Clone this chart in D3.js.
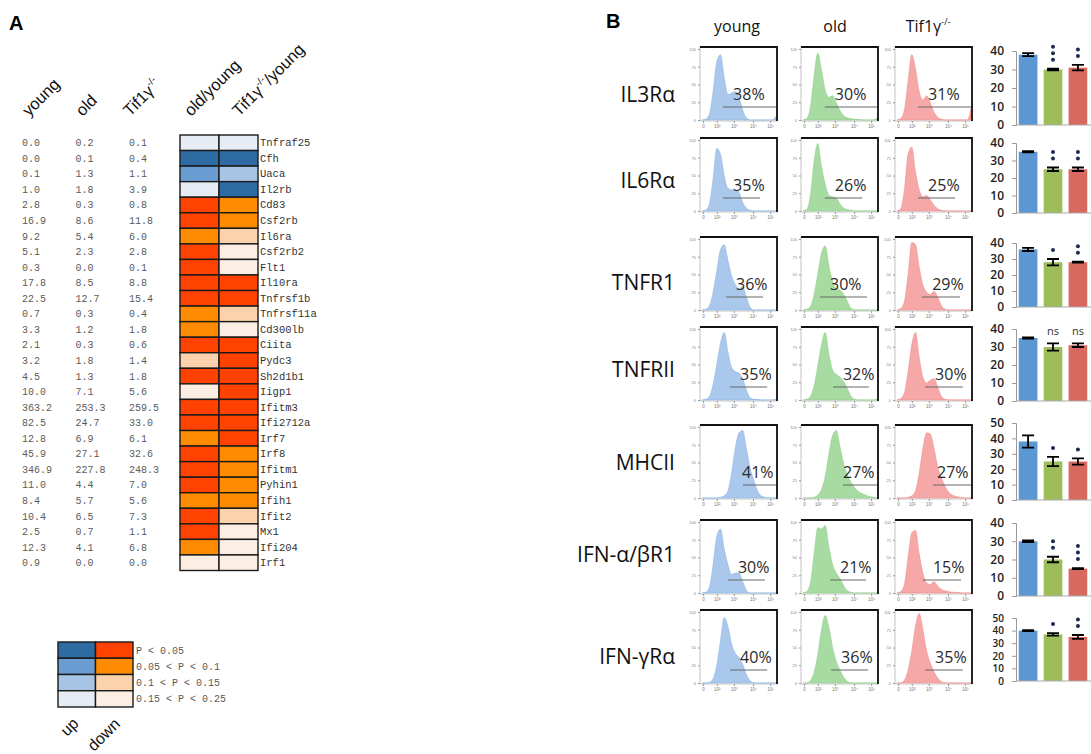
<!DOCTYPE html>
<html><head><meta charset="utf-8">
<script src="https://cdn.jsdelivr.net/npm/d3@7"></script>
<style>body{margin:0;background:#fff}svg{display:block}</style>
</head><body>
<svg id="c" width="1091" height="754"></svg>
<script>
// ---------------- Panel A data ----------------
const genes = ["Tnfraf25","Cfh","Uaca","Il2rb","Cd83","Csf2rb","Il6ra","Csf2rb2","Flt1","Il10ra","Tnfrsf1b","Tnfrsf11a","Cd300lb","Ciita","Pydc3","Sh2d1b1","Iigp1","Ifitm3","Ifi2712a","Irf7","Irf8","Ifitm1","Pyhin1","Ifih1","Ifit2","Mx1","Ifi204","Irf1"];
const youngVals = ["0.0","0.0","0.1","1.0","2.8","16.9","9.2","5.1","0.3","17.8","22.5","0.7","3.3","2.1","3.2","4.5","10.0","363.2","82.5","12.8","45.9","346.9","11.0","8.4","10.4","2.5","12.3","0.9"];
const oldVals = ["0.2","0.1","1.3","1.8","0.3","8.6","5.4","2.3","0.0","8.5","12.7","0.3","1.2","0.3","1.8","1.3","7.1","253.3","24.7","6.9","27.1","227.8","4.4","5.7","6.5","0.7","4.1","0.0"];
const tifVals = ["0.1","0.4","1.1","3.9","0.8","11.8","6.0","2.8","0.1","8.8","15.4","0.4","1.8","0.6","1.4","1.8","5.6","259.5","33.0","6.1","32.6","248.3","7.0","5.6","7.3","1.1","6.8","0.0"];
// u1..u4 = up (P<0.05 .. 0.15<P<0.25), d1..d4 = down
const oldYoungLevel = ["u4","u1","u2","u4","d1","d1","d2","d1","d1","d1","d1","d2","d2","d1","d3","d1","d4","d1","d1","d2","d1","d1","d1","d2","d1","d1","d2","d4"];
const tifYoungLevel = ["u4","u1","u3","u1","d2","d2","d3","d4","d4","d1","d1","d3","d4","d1","d1","d1","d1","d1","d1","d1","d2","d2","d2","d2","d3","d4","d4","d4"];
const levelCodes = ["u1","u2","u3","u4","d1","d2","d3","d4"];
const levelColors = ["#2e6ba3","#6a9dd2","#a8c4e5","#e5ecf3","#ff4200","#ff8c00","#fcd2ad","#fdeee3"];
const legendLabels = ["P < 0.05","0.05 < P < 0.1","0.1 < P < 0.15","0.15 < P < 0.25"];

// ---------------- Panel B data ----------------
const markers = ["IL3Rα","IL6Rα","TNFR1","TNFRII","MHCII","IFN-α/βR1","IFN-γRα"];
const groups = ["young","old","Tif1γ"];
const pctYoung = [38,35,36,35,41,30,40];
const pctOld = [30,26,30,32,27,21,36];
const pctTif = [31,25,29,30,27,15,35];
// gate (channel bins 0..20)
const gateYoung = [[5.7,20],[5.7,15.7],[6.5,16.5],[7.6,17.6],[11.1,20],[7.0,17],[7.6,17.6]];
const gateOld = [[5.9,20],[5.9,16],[4.6,17.3],[8.1,17.8],[10.8,20],[7.3,17],[7.6,17.6]];
const gateTif = [[5.7,20],[5.7,15.7],[6.8,17],[7.6,17.8],[9.7,20],[7.0,17.3],[7.6,17.8]];
// histogram heights (% of max) at bins 0..20
const histYoung = [
 [0,1,8,40,82,92,60,36,38,40,32,14,3,0,0,0,0,0,0,0,5],
 [0,1,10,45,88,80,50,32,30,30,26,12,4,1,0,0,0,0,0,0,0],
 [0,1,6,25,55,85,92,70,48,36,30,32,18,4,0,0,0,0,0,0,0],
 [0,1,5,22,50,80,95,68,46,40,38,30,14,3,1,1,0,0,0,0,1],
 [0,0,0,0,0,1,3,10,35,70,92,95,70,42,25,10,3,1,0,0,0],
 [0,1,8,40,80,90,62,40,26,28,28,16,4,0,0,0,0,0,0,0,0],
 [0,0,1,6,25,60,92,80,55,42,36,26,12,3,0,0,0,0,0,0,0]];
const histOld = [
 [0,2,18,62,94,70,42,32,34,24,13,6,3,2,1,1,0,0,0,0,3],
 [0,2,22,70,95,62,38,22,20,18,10,4,2,1,0,0,0,0,0,0,0],
 [0,1,5,22,50,80,90,62,40,30,28,22,12,2,0,0,0,0,0,0,0],
 [0,1,5,20,48,78,95,65,42,36,32,26,16,5,1,0,0,0,0,0,1],
 [0,0,0,1,4,12,30,62,88,95,72,48,32,22,14,9,6,4,2,1,0],
 [0,2,14,55,92,90,95,65,40,28,20,10,3,1,0,0,0,0,0,0,0],
 [0,0,3,15,40,75,95,78,50,30,18,8,2,0,0,0,0,0,0,0,0]];
const histTif = [
 [0,2,14,55,92,72,40,28,34,24,11,4,1,0,0,0,0,0,0,0,16],
 [0,3,30,80,90,55,30,20,22,16,8,3,1,0,0,0,0,0,0,0,0],
 [0,2,12,50,95,92,60,35,25,22,26,18,6,1,0,0,0,0,0,0,0],
 [0,2,10,40,78,95,60,32,24,28,30,18,5,1,0,0,0,0,0,0,0],
 [0,0,0,1,3,10,35,70,92,90,70,44,28,16,8,4,2,1,0,0,0],
 [0,2,12,50,85,88,55,28,14,12,16,10,5,3,2,1,1,0,0,0,0],
 [0,0,4,18,45,80,98,75,45,28,16,7,2,0,0,0,0,0,0,0,0]];
const barYoung = [38,35,36,35,38,30,40];
const barOld = [30,25,28,30,25,20,37];
const barTif = [31,25,28,31,25,15,35];
const errYoung = [0.8,0.4,1,0.3,4,0.5,0.3];
const errOld = [0.4,1,2,2,3,1.5,1];
const errTif = [1.5,1,0.3,1,2,0.3,1.5];
const sigOld = ["***","**","*","ns","*","**","*"];
const sigTif = ["**","**","**","ns","*","***","**"];
const barMax = [40,40,40,40,50,40,50];

// ---------------- drawing ----------------
const svg = d3.select("#c");
svg.append("rect").attr("width",1091).attr("height",754).attr("fill","#fff");
const mono = "'Liberation Mono','DejaVu Sans Mono',monospace";
const sans = "'Liberation Sans',Arial,sans-serif";
const calib = "'Open Sans','Noto Sans',sans-serif";

// Panel letters
svg.append("text").attr("x",9).attr("y",30).text("A").attr("font-family",sans).attr("font-weight","bold").attr("font-size",20);
svg.append("text").attr("x",606).attr("y",28).text("B").attr("font-family",sans).attr("font-weight","bold").attr("font-size",20);

// ---- Panel A ----
const A = svg.append("g");
const yRow = d3.scaleBand().domain(genes).range([135,570.5]);
const numCols = ["young","old","tif"];
const xNum = d3.scalePoint().domain(numCols).range([22,129]);
const heatCols = ["oldYoung","tifYoung"];
const xHeat = d3.scaleBand().domain(heatCols).range([180,258]);
const color = d3.scaleOrdinal().domain(levelCodes).range(levelColors);

// headers
function header(x, parts){
  const t = A.append("text").attr("transform",`translate(${x},117) rotate(-45)`)
    .attr("font-family",sans).attr("font-size",16.5).attr("fill","#111");
  parts.forEach(p=>{
    const ts = t.append("tspan").text(p.t);
    if(p.sup){ ts.attr("font-size",10).attr("dy",-7); }
    if(p.down){ ts.attr("dy",7); }
  });
}
header(xNum("young")+7,[{t:"young"}]);
header(xNum("old")+7,[{t:"old"}]);
header(xNum("tif")+1,[{t:"Tif1γ"},{t:"-/-",sup:true}]);
header(191,[{t:"old/young"}]);
header(239,[{t:"Tif1γ"},{t:"-/-",sup:true},{t:"/young",down:true}]);

const valSets = {young:youngVals, old:oldVals, tif:tifVals};
numCols.forEach(c=>{
  A.append("g").selectAll("text").data(genes).join("text")
    .attr("x",xNum(c)).attr("y",(g)=>yRow(g)+yRow.bandwidth()/2+3.5)
    .text((g,i)=>valSets[c][i])
    .attr("font-family",mono).attr("font-size",10).attr("fill","#5a5a5a");
});
const levelSets = {oldYoung:oldYoungLevel, tifYoung:tifYoungLevel};
heatCols.forEach(c=>{
  A.append("g").selectAll("rect").data(genes).join("rect")
    .attr("x",xHeat(c)).attr("y",g=>yRow(g)).attr("width",xHeat.bandwidth()).attr("height",yRow.bandwidth())
    .attr("fill",(g,i)=>color(levelSets[c][i])).attr("stroke","#1a1a1a").attr("stroke-width",1.4);
});
A.append("g").selectAll("text").data(genes).join("text")
  .attr("x",260).attr("y",g=>yRow(g)+yRow.bandwidth()/2+3.5).text(g=>g)
  .attr("font-family",mono).attr("font-size",10.5).attr("fill","#333");

// legend
const legRows = d3.scaleBand().domain(legendLabels).range([642,707]);
const legCols = d3.scaleBand().domain(["up","down"]).range([58,133]);
["up","down"].forEach((d,j)=>{
  A.append("g").selectAll("rect").data(legendLabels).join("rect")
    .attr("x",legCols(d)).attr("y",l=>legRows(l)).attr("width",legCols.bandwidth()).attr("height",legRows.bandwidth())
    .attr("fill",(l,i)=>color(levelCodes[j*4+i])).attr("stroke","#1a1a1a").attr("stroke-width",1.4);
  A.append("text").attr("transform",`translate(${d==="up"?67:94},${d==="up"?737:752}) rotate(-45)`)
    .text(d).attr("font-family",sans).attr("font-size",16).attr("fill","#111");
});
A.append("g").selectAll("text").data(legendLabels).join("text")
  .attr("x",136).attr("y",l=>legRows(l)+legRows.bandwidth()/2+3.5).text(l=>l)
  .attr("font-family",mono).attr("font-size",10).attr("fill","#5a5a5a");

// ---- Panel B ----
const B = svg.append("g");
const colX = [700,801,895];
const boxW = 77, boxH = 74;
const rowTop = [47,138,237,327,425,520,610];
const rowLabelY = [102,188,290,377,470,562,664];
const barZeroY = [125,213,307,401,500,596,681];
const barTopY = [51,143,243,329,423,523,618];
const fills = ["#a9c8ec","#a8dba2","#f6a7a7"];
const strokes = ["#8fb6e2","#8fcf8a","#ef8f8f"];
const pcts = [pctYoung,pctOld,pctTif];
const gates = [gateYoung,gateOld,gateTif];
const hists = [histYoung,histOld,histTif];

// column titles
const titleX = [737,835,928];
groups.forEach((g,j)=>{
  const t = B.append("text").attr("x",titleX[j]).attr("y",32).attr("text-anchor","middle")
    .attr("font-family",calib).attr("font-size",16).attr("fill","#111");
  t.append("tspan").text(g);
  if(j===2) t.append("tspan").text("-/-").attr("font-size",9).attr("dy",-7);
});

const bins = d3.range(21);
const tickPos = [0.3,4,8.6,13.8,18.4];
const tickLab = ["0","10²","10³","10⁴","10⁵"];
markers.forEach((m,r)=>{
  B.append("text").attr("x",675).attr("y",rowLabelY[r]).attr("text-anchor","end")
    .text(m).attr("font-family",calib).attr("font-size",21).attr("fill","#111");
  for(let j=0;j<3;j++){
    const x0 = colX[j], y0 = rowTop[r];
    const g = B.append("g");
    const xs = d3.scaleLinear().domain([0,20]).range([x0+2,x0+boxW-1]);
    const ys = d3.scaleLinear().domain([0,100]).range([y0+boxH-1,y0+2]);
    g.append("rect").attr("x",x0).attr("y",y0).attr("width",boxW).attr("height",boxH)
      .attr("fill","#fff").attr("stroke","#b5b5b5").attr("stroke-width",0.8);
    const area = d3.area().x((d,i)=>xs(bins[i])).y0(ys(0)).y1(d=>ys(d)).curve(d3.curveMonotoneX);
    g.append("path").datum(hists[j][r]).attr("d",area).attr("fill",fills[j]).attr("stroke",strokes[j]).attr("stroke-width",0.6);
    // thick top/right frame
    g.append("path").attr("d",`M${x0},${y0}H${x0+boxW}V${y0+boxH}`).attr("fill","none").attr("stroke","#111").attr("stroke-width",1.8);
    // tiny axes
    const xa = d3.axisBottom(xs).tickValues(tickPos).tickFormat((d,i)=>tickLab[i]).tickSize(2).tickPadding(2);
    const xg = g.append("g").attr("transform",`translate(0,${y0+boxH})`).call(xa);
    xg.select(".domain").remove();
    xg.selectAll("text").attr("font-size",4.5).attr("fill","#777");
    xg.selectAll("line").attr("stroke","#999");
    const ya = d3.axisLeft(ys).tickValues([0,25,50,75,100]).tickFormat(d=>d).tickSize(2).tickPadding(2);
    const yg = g.append("g").attr("transform",`translate(${x0},0)`).call(ya);
    yg.select(".domain").remove();
    yg.selectAll("text").attr("font-size",4).attr("fill","#888");
    yg.selectAll("line").attr("stroke","#999");
    // gate
    const gy = y0+boxH-14;
    const [gs,ge] = gates[j][r];
    g.append("line").attr("x1",xs(gs)).attr("x2",Math.min(xs(ge),x0+boxW)).attr("y1",gy).attr("y2",gy)
      .attr("stroke","#666").attr("stroke-width",1);
    g.append("text").attr("x",Math.min(xs(gs)+10, x0+boxW-35)).attr("y",gy-7).text(pcts[j][r]+"%")
      .attr("font-family",calib).attr("font-size",16).attr("fill","#2a2a2a");
  }
  // bar chart
  const bg = B.append("g");
  const y = d3.scaleLinear().domain([0,barMax[r]]).range([barZeroY[r],barTopY[r]]);
  const x = d3.scaleBand().domain(groups).range([1015,1091]).paddingInner(0.25).paddingOuter(0.15);
  const vals = [barYoung[r],barOld[r],barTif[r]];
  const errs = [errYoung[r],errOld[r],errTif[r]];
  const sigs = ["",sigOld[r],sigTif[r]];
  const barCols = ["#5b97d3","#9dbd5b","#d9695f"];
  bg.selectAll("rect").data(groups).join("rect")
    .attr("x",d=>x(d)).attr("width",x.bandwidth())
    .attr("y",(d,i)=>y(vals[i])).attr("height",(d,i)=>y(0)-y(vals[i]))
    .attr("fill",(d,i)=>barCols[i]);
  groups.forEach((d,i)=>{
    const cx = x(d)+x.bandwidth()/2, cw = 6;
    const t = y(vals[i]+errs[i]), b = y(vals[i]-errs[i]);
    bg.append("path").attr("d",`M${cx-cw},${t}H${cx+cw}M${cx},${t}V${b}M${cx-cw},${b}H${cx+cw}`)
      .attr("stroke","#000").attr("stroke-width",1.8).attr("fill","none");
    const s = sigs[i];
    if(s==="ns"){
      bg.append("text").attr("x",cx).attr("y",t-8).attr("text-anchor","middle").text("ns")
        .attr("font-family",calib).attr("font-size",11).attr("fill","#333");
    } else if(s){
      for(let k=0;k<s.length;k++){
        bg.append("circle").attr("cx",cx).attr("cy",t-9-k*6.5).attr("r",2).attr("fill","#1c2b4f");
      }
    }
  });
  const step = Math.abs(y(10)-y(0));
  const fs = step < 14 ? 10 : 12;
  const ya = d3.axisLeft(y).tickValues(d3.range(0,barMax[r]+1,10)).tickSize(4).tickPadding(8);
  const ag = bg.append("g").attr("transform","translate(1016,0)").call(ya);
  ag.select(".domain").attr("stroke","#999");
  ag.selectAll("line").attr("stroke","#999");
  ag.selectAll("text").attr("font-family",calib).attr("font-size",fs).attr("font-weight",600).attr("fill","#222");
  bg.append("line").attr("x1",1016).attr("x2",1091).attr("y1",y(0)).attr("y2",y(0)).attr("stroke","#aaa").attr("stroke-width",1);
});
</script>
</body></html>
